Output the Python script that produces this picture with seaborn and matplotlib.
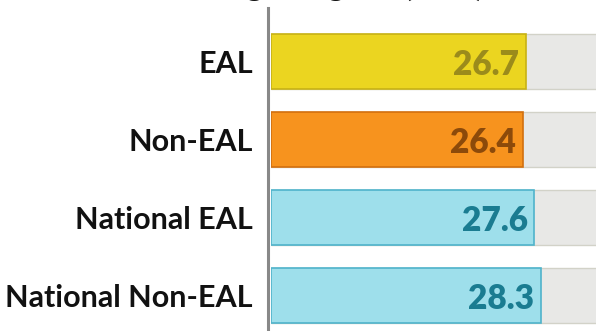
import matplotlib
matplotlib.use("Agg")
import matplotlib.pyplot as plt
import seaborn as sns
import pandas as pd

categories = ["EAL", "Non-EAL", "National EAL", "National Non-EAL"]
values = [26.7, 26.4, 27.6, 28.3]
value_labels = ["26.7", "26.4", "27.6", "28.3"]
scale_max = 40
title = "Average English (APS)"

fill_colors = ["#ebd520", "#f7931e", "#9edfeb", "#9edfeb"]
edge_colors = ["#c8b214", "#d2700f", "#4fb3cb", "#4fb3cb"]
text_colors = ["#9b8b1b", "#8c4a0a", "#1a7c91", "#1a7c91"]

sns.set_theme(style="white")
plt.rcParams["font.family"] = ["Lato", "DejaVu Sans"]
plt.rcParams["font.weight"] = "bold"
plt.rcParams["ytick.labelsize"] = 22
plt.rcParams["ytick.color"] = "#111111"
plt.rcParams["ytick.labelcolor"] = "#111111"

W, H = 596, 331
dpi = 100
fig = plt.figure(figsize=(W / dpi, H / dpi), dpi=dpi)

px_per_unit = 9.54
left_px, top_px = 271, 8
unit_h = 78.0
ylim_top, ylim_bot = -0.686, 3.6
ax_w_px = scale_max * px_per_unit
ax_h_px = (ylim_bot - ylim_top) * unit_h
ax = fig.add_axes([left_px / W, 1 - (top_px + ax_h_px) / H, ax_w_px / W, ax_h_px / H])

df = pd.DataFrame({"category": categories, "value": values,
                   "bg": [scale_max] * len(categories)})

sns.barplot(data=df, x="bg", y="category", orient="h", color="#e8e8e6",
            width=0.7, ax=ax, linewidth=1.0, edgecolor="#d2d2c8", saturation=1)
n_bg = len(ax.patches)
sns.barplot(data=df, x="value", y="category", hue="category", palette=fill_colors,
            orient="h", width=0.7, ax=ax, legend=False, linewidth=1.2, saturation=1)
for p, ec in zip(ax.patches[n_bg:], edge_colors):
    p.set_edgecolor(ec)

ax.set_xlim(0, scale_max)
ax.set_ylim(ylim_bot, ylim_top)
ax.set_xlabel("")
ax.set_ylabel("")
ax.set_xticks([])
ax.tick_params(axis="y", length=0, pad=11, labelsize=22, labelcolor="#111111")

for s in ["top", "right", "bottom"]:
    ax.spines[s].set_visible(False)
ax.spines["left"].set_color("#888888")
ax.spines["left"].set_linewidth(2.2)
ax.spines["left"].set_position(("outward", 2.0))

for i, (v, lab, c) in enumerate(zip(values, value_labels, text_colors)):
    ax.text(v - 0.7, i + 0.05, lab, ha="right", va="center", fontsize=24,
            fontweight="heavy", color=c)

fig.text(484 / W, 1 + 4 / H, title, ha="right", va="baseline", fontsize=24,
         fontweight="bold", color="#111111")

fig.savefig("out.png", dpi=dpi)
